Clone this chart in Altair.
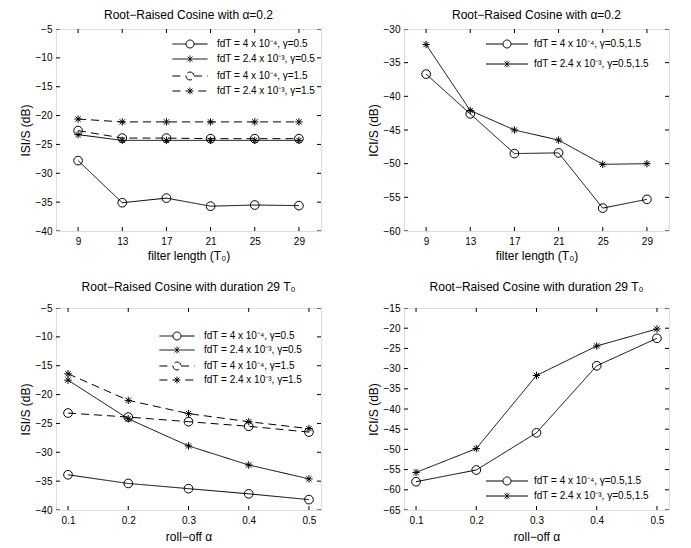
import altair as alt
import pandas as pd

# ---------------- data ----------------
filter_len = [9, 13, 17, 21, 25, 29]
rolloff = [0.1, 0.2, 0.3, 0.4, 0.5]

lab_a = "fdT = 4 x 10⁻⁴, γ=0.5"
lab_b = "fdT = 2.4 x 10⁻³, γ=0.5"
lab_c = "fdT = 4 x 10⁻⁴, γ=1.5"
lab_d = "fdT = 2.4 x 10⁻³, γ=1.5"
lab_e = "fdT = 4 x 10⁻⁴, γ=0.5,1.5"
lab_f = "fdT = 2.4 x 10⁻³, γ=0.5,1.5"

isi_len_a = [-27.8, -35.1, -34.3, -35.7, -35.5, -35.6]
isi_len_b = [-23.3, -24.3, -24.3, -24.3, -24.3, -24.3]
isi_len_c = [-22.6, -23.9, -23.9, -24.0, -24.0, -24.0]
isi_len_d = [-20.6, -21.1, -21.1, -21.1, -21.1, -21.1]

ici_len_a = [-36.7, -42.6, -48.5, -48.4, -56.6, -55.3]
ici_len_b = [-32.3, -42.1, -45.0, -46.5, -50.1, -50.0]

isi_roll_a = [-33.9, -35.4, -36.3, -37.2, -38.2]
isi_roll_b = [-17.5, -24.2, -28.9, -32.2, -34.6]
isi_roll_c = [-23.2, -23.9, -24.7, -25.5, -26.5]
isi_roll_d = [-16.4, -21.0, -23.3, -24.7, -25.9]

ici_roll_a = [-58.0, -55.1, -45.9, -29.3, -22.5]
ici_roll_b = [-55.7, -49.8, -31.7, -24.4, -20.2]

len_ticks = [9, 13, 17, 21, 25, 29]
roll_ticks = [0.1, 0.2, 0.3, 0.4, 0.5]
isi_ticks = [-40, -35, -30, -25, -20, -15, -10, -5]
ici_len_ticks = [-60, -55, -50, -45, -40, -35, -30]
ici_roll_ticks = [-65, -60, -55, -50, -45, -40, -35, -30, -25, -20, -15]

# ---------------- style ----------------
FONT = "Liberation Sans"
W, H = 265, 202
CIRC = "M-1,0A1,1 0 1,0 1,0A1,1 0 1,0 -1,0"
STAR = "M-0.85,0L0.85,0M0,-0.85L0,0.85M-0.6,-0.6L0.6,0.6M-0.6,0.6L0.6,-0.6"
SOLID = [1, 0]
DASH = [8, 5]


def leg_paths(half):
    circ = f"M-{half},0L-1,0M1,0L{half},0M-1,0A1,1 0 1,0 1,0A1,1 0 1,0 -1,0"
    star = f"M-{half},0L{half},0M0,-0.85L0,0.85M-0.6,-0.6L0.6,0.6M-0.6,0.6L0.6,-0.6"
    return circ, star


def make_legend(lx, ly, rowpad, loff, symtype):
    return alt.Legend(
        title=None, orient="none", legendX=lx, legendY=ly, padding=0,
        symbolSize=64, rowPadding=rowpad, labelOffset=loff, labelFontSize=10,
        labelFont=FONT, labelColor="black", labelLimit=300,
        symbolType=symtype, symbolStrokeColor="black", symbolFillColor="transparent",
        symbolStrokeWidth=1, symbolOpacity=1)


def panel(xv, series, labels, dashes, shapes, xdom, ydom, xticks, yticks,
          title, xtitle, ytitle, lx, ly, sp, half, loff, toff, xtp):
    rows = []
    for lab, ys in zip(labels, series):
        for x, y in zip(xv, ys):
            rows.append({"x": x, "y": y, "series": lab})
    df = pd.DataFrame(rows)
    xs = alt.Scale(domain=xdom, nice=False, zero=False)
    ys_ = alt.Scale(domain=ydom, nice=False, zero=False)
    common = dict(ticks=False, domain=False, grid=False, labelFontSize=10, titleFontSize=12,
                  labelColor="black", titleColor="black", titleFontWeight="normal",
                  labelFont=FONT, titleFont=FONT, labelOverlap=False, labelFlush=False)
    xax = alt.Axis(values=xticks, title=xtitle, labelPadding=5, titlePadding=xtp,
                   format="~g", **common)
    yax = alt.Axis(values=yticks, title=ytitle, labelPadding=4, titlePadding=3,
                   format="d", **common)
    circ_l, star_l = leg_paths(half)

    circ_labs = [l for l, s in zip(labels, shapes) if s == CIRC]
    circ_dash = [d for d, s in zip(dashes, shapes) if s == CIRC]
    star_labs = [l for l, s in zip(labels, shapes) if s == STAR]
    star_dash = [d for d, s in zip(dashes, shapes) if s == STAR]

    base = alt.Chart(df).encode(
        x=alt.X("x:Q", scale=xs, axis=xax),
        y=alt.Y("y:Q", scale=ys_, axis=yax))
    lines_c = base.mark_line(color="black", strokeWidth=1).encode(
        strokeDash=alt.StrokeDash("series:N", scale=alt.Scale(domain=circ_labs, range=circ_dash),
                                  legend=make_legend(lx, ly, 2 * sp - 10, loff, circ_l))
    ).transform_filter(alt.FieldOneOfPredicate(field="series", oneOf=circ_labs))
    lines_s = base.mark_line(color="black", strokeWidth=1).encode(
        strokeDash=alt.StrokeDash("series:N", scale=alt.Scale(domain=star_labs, range=star_dash),
                                  legend=make_legend(lx, ly + sp, 2 * sp - 10, loff, star_l))
    ).transform_filter(alt.FieldOneOfPredicate(field="series", oneOf=star_labs))
    pts = base.mark_point(color="black", filled=False, strokeWidth=1, size=76, opacity=1).encode(
        shape=alt.Shape("series:N", scale=alt.Scale(domain=labels, range=shapes), legend=None))

    xt = pd.DataFrame({"x": xticks})
    yt = pd.DataFrame({"y": yticks})
    tk = dict(color="black", thickness=1, size=8, clip=True, opacity=1)
    tick_b = alt.Chart(xt).mark_tick(**tk).encode(
        x=alt.X("x:Q", scale=xs, axis=xax), y=alt.value(H))
    tick_t = alt.Chart(xt).mark_tick(**tk).encode(
        x=alt.X("x:Q", scale=xs, axis=xax), y=alt.value(0))
    tick_l = alt.Chart(yt).mark_tick(**tk).encode(
        y=alt.Y("y:Q", scale=ys_, axis=yax), x=alt.value(0))
    tick_r = alt.Chart(yt).mark_tick(**tk).encode(
        y=alt.Y("y:Q", scale=ys_, axis=yax), x=alt.value(W))

    return alt.layer(lines_c, lines_s, pts, tick_b, tick_t, tick_l, tick_r).resolve_scale(
        strokeDash="independent").properties(
        width=W, height=H,
        title=alt.TitleParams(title, fontSize=12, font=FONT, fontWeight="normal",
                              color="black", frame="group", anchor="middle", offset=toff))


tl = panel(filter_len, [isi_len_a, isi_len_b, isi_len_c, isi_len_d],
           [lab_a, lab_b, lab_c, lab_d], [SOLID, SOLID, DASH, DASH],
           [CIRC, STAR, CIRC, STAR], [7, 31], [-40, -5], len_ticks, isi_ticks,
           "Root−Raised Cosine with α=0.2", "filter length (T₀)", "ISI/S (dB)",
           129, 10, 15, 4.4, 22, 2, 4)
tr = panel(filter_len, [ici_len_a, ici_len_b], [lab_e, lab_f], [SOLID, SOLID],
           [CIRC, STAR], [7, 31], [-60, -30], len_ticks, ici_len_ticks,
           "Root−Raised Cosine with α=0.2", "filter length (T₀)", "ICI/S (dB)",
           98, 10, 20, 5.25, 22, 2, 4)
bl = panel(rolloff, [isi_roll_a, isi_roll_b, isi_roll_c, isi_roll_d],
           [lab_a, lab_b, lab_c, lab_d], [SOLID, SOLID, DASH, DASH],
           [CIRC, STAR, CIRC, STAR], [0.08, 0.52], [-40, -5], roll_ticks, isi_ticks,
           "Root−Raised Cosine with duration 29 T₀", "roll−off α", "ISI/S (dB)",
           116, 23, 14, 4.4, 22, 9, 6)
br = panel(rolloff, [ici_roll_a, ici_roll_b], [lab_e, lab_f], [SOLID, SOLID],
           [CIRC, STAR], [0.08, 0.52], [-65, -15], roll_ticks, ici_roll_ticks,
           "Root−Raised Cosine with duration 29 T₀", "roll−off α", "ICI/S (dB)",
           98, 168, 15, 5.25, 22, 9, 6)

chart = alt.vconcat(
    alt.hconcat(tl, tr, spacing=44),
    alt.hconcat(bl, br, spacing=44),
    spacing=18,
).configure_view(
    stroke="black", strokeWidth=1
).configure(background="white", padding={"left": 10, "top": 0, "right": 0, "bottom": 0})

chart.save("out.html", embed_options={"renderer": "svg", "actions": False})
